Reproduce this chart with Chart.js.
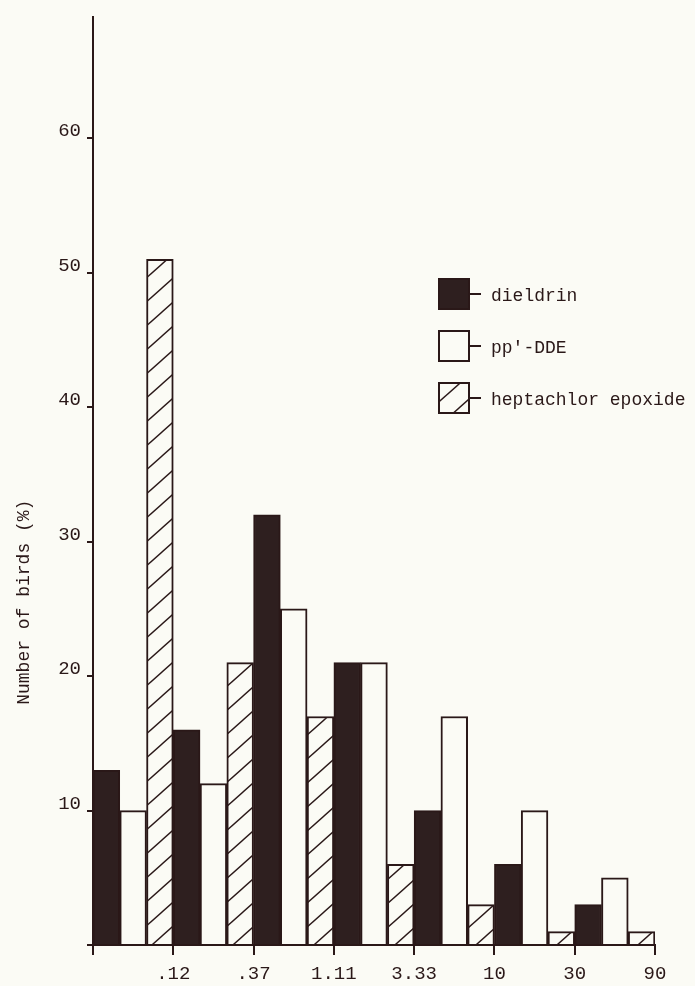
<!DOCTYPE html>
<html>
<head>
<meta charset="utf-8">
<script src="https://cdn.jsdelivr.net/npm/chart.js@4.4.0/dist/chart.umd.min.js"></script>
<style>
  html, body { margin: 0; padding: 0; background: #fbfbf5; }
  #wrap { position: relative; width: 695px; height: 986px; }
</style>
</head>
<body>
<div id="wrap"><canvas id="c"></canvas></div>
<script>
// residue classes (ppm); each bin is labelled at its upper bound
const bins = ['< .12', '.12-.37', '.37-1.11', '1.11-3.33', '3.33-10', '10-30', '30-90'];
const xTickLabels = ['', '.12', '.37', '1.11', '3.33', '10', '30', '90'];
const yTicks = [10, 20, 30, 40, 50, 60];

// % of birds in each bin
const dieldrin   = [13, 16, 32, 21, 10, 6, 3];
const ppDDE      = [10, 12, 25, 21, 17, 10, 5];
const heptachlor = [51, 21, 17, 6, 3, 1, 1];

const INK = '#2a1818';
const PAPER = '#fbfbf5';
const FONT = '"Liberation Mono", "DejaVu Sans Mono", monospace';

Chart.defaults.font.family = FONT;

function hatchPattern() {
  const w = 27, h = 24;
  const c = document.createElement('canvas');
  c.width = w; c.height = h;
  const g = c.getContext('2d');
  g.fillStyle = PAPER;
  g.fillRect(0, 0, w, h);
  g.strokeStyle = INK;
  g.lineWidth = 1.4;
  [-h, 0, h].forEach(k => {
    g.beginPath();
    g.moveTo(-2, h + k + 2 * h / w);
    g.lineTo(w + 2, k - 2 * h / w);
    g.stroke();
  });
  return g.createPattern(c, 'repeat');
}

const hatch = hatchPattern();
const toPoints = arr => arr.map((v, i) => ({ x: i + 0.5, y: v }));

// rotated axis title, centred where the original sits (a bit below mid-axis)
const yTitle = {
  id: 'yTitle',
  afterDraw(chart) {
    const g = chart.ctx;
    const y = chart.scales.y.getPixelForValue(25.5);
    g.save();
    g.translate(24, y);
    g.rotate(-Math.PI / 2);
    g.font = '18px ' + FONT;
    g.fillStyle = INK;
    g.textAlign = 'center';
    g.textBaseline = 'middle';
    g.fillText('Number of birds (%)', 0, 0);
    g.restore();
  }
};

// boxed legend inside the plot, drawn from the datasets' own styles
const boxLegend = {
  id: 'boxLegend',
  afterDraw(chart) {
    const g = chart.ctx;
    chart.data.datasets.forEach((ds, i) => {
      const x = 439, y = 279 + i * 52, s = 30;
      g.save();
      g.fillStyle = ds.backgroundColor;
      g.fillRect(x, y, s, s);
      g.strokeStyle = INK;
      g.lineWidth = 2;
      g.strokeRect(x, y, s, s);
      g.beginPath();
      g.moveTo(x + s, y + s / 2);
      g.lineTo(x + s + 12, y + s / 2);
      g.stroke();
      g.font = '18px ' + FONT;
      g.fillStyle = INK;
      g.textBaseline = 'middle';
      g.fillText(ds.label, 491, y + s / 2 + 2);
      g.restore();
    });
  }
};

new Chart(document.getElementById('c'), {
  type: 'bar',
  data: {
    datasets: [
      { label: 'dieldrin', data: toPoints(dieldrin),
        backgroundColor: '#2e1f1f', borderColor: INK, borderWidth: 2 },
      { label: "pp'-DDE", data: toPoints(ppDDE),
        backgroundColor: PAPER, borderColor: INK, borderWidth: 2 },
      { label: 'heptachlor epoxide', data: toPoints(heptachlor),
        backgroundColor: hatch, borderColor: INK, borderWidth: 2 }
    ]
  },
  options: {
    responsive: true,
    maintainAspectRatio: false,
    animation: false,
    layout: { padding: { top: 12, right: 40, left: 0, bottom: 0 } },
    datasets: { bar: { barPercentage: 1, categoryPercentage: 1 } },
    plugins: {
      legend: { display: false },
      tooltip: { enabled: false }
    },
    scales: {
      x: {
        type: 'linear', min: 0, max: 7, offset: false,
        grid: { offset: false, drawOnChartArea: false, tickLength: 10, color: INK, lineWidth: 2 },
        border: { color: INK, width: 2 },
        ticks: {
          stepSize: 1, autoSkip: false, maxRotation: 0, padding: 8,
          color: INK, font: { size: 19 },
          callback: v => xTickLabels[v] ?? ''
        },
        afterFit: s => { s.height = 41; }
      },
      y: {
        min: 0, max: 69,
        grid: { drawOnChartArea: false, tickLength: 6, color: INK, lineWidth: 2 },
        border: { color: INK, width: 2 },
        ticks: {
          stepSize: 10, includeBounds: false, padding: 6, labelOffset: -7,
          color: INK, font: { size: 19 },
          callback: v => yTicks.includes(v) ? v : ''
        },
        afterFit: s => { s.width = 93; }
      }
    }
  },
  plugins: [yTitle, boxLegend]
});
</script>
</body>
</html>
